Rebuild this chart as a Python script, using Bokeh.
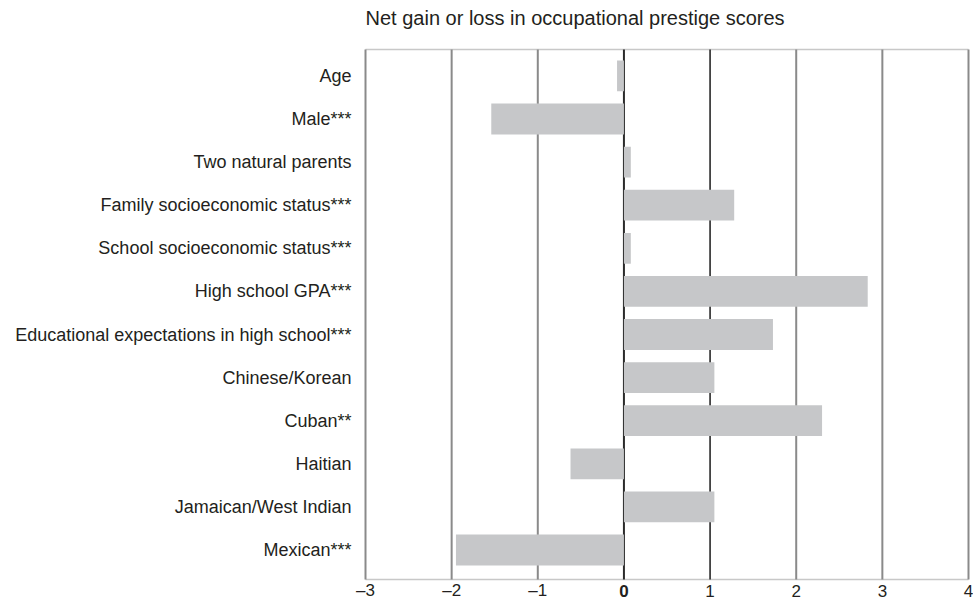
from bokeh.plotting import figure
from bokeh.models import Range1d, FixedTicker, ColumnDataSource
from bokeh.core.properties import value
from bokeh.embed import file_html
from bokeh.resources import INLINE

categories = [
    "Age",
    "Male***",
    "Two natural parents",
    "Family socioeconomic status***",
    "School socioeconomic status***",
    "High school GPA***",
    "Educational expectations in high school***",
    "Chinese/Korean",
    "Cuban**",
    "Haitian",
    "Jamaican/West Indian",
    "Mexican***",
]
values = [-0.08, -1.54, 0.08, 1.28, 0.08, 2.83, 1.73, 1.05, 2.30, -0.62, 1.05, -1.95]
x_ticks = [-3, -2, -1, 0, 1, 2, 3, 4]
x_tick_labels = ["\u20133", "\u20132", "\u20131", "0", "1", "2", "3", "4"]
x_tick_styles = ["normal", "normal", "normal", "bold", "normal", "normal", "normal", "normal"]
title_text = "Net gain or loss in occupational prestige scores"

FONT = "Liberation Sans"
TXT = "#231f20"

# layout (pixels -> data); first category centre sits at 75.4 px
PX_X = 86.1            # px per x unit
PX_Y = 43.1            # px per category
X0, X1 = x_ticks[0], x_ticks[-1]
FRAME_L = 352
Y_CANVAS_TOP = -75.4 / PX_Y
Y_TOP = (49 - 75.4) / PX_Y         # plot area top edge
Y_AX = (579 - 75.4) / PX_Y         # plot area bottom edge
Y_LAB = (590 - 75.4) / PX_Y        # tick label row
Y_TITLE = (17 - 75.4) / PX_Y       # title row
Y_END = (610 - 75.4) / PX_Y        # bottom of canvas

pos = list(range(len(categories)))
src = ColumnDataSource(dict(y=pos, right=values, left=[0] * len(values)))

p = figure(
    width=973, height=610,
    x_range=Range1d(X0 - (365 - FRAME_L) / PX_X, X1 + 5 / PX_X),
    y_range=Range1d(Y_END, Y_CANVAS_TOP),
    output_backend="svg", toolbar_location=None,
    x_axis_location=None,
    min_border_left=FRAME_L, min_border_right=0,
    min_border_top=0, min_border_bottom=0,
)

p.background_fill_color = "white"
p.border_fill_color = "white"
p.outline_line_color = None
p.grid.grid_line_color = None

# title
p.text(x=[X0], y=[Y_TITLE], text=[title_text], text_font=value(FONT),
       text_font_size=value("20px"), text_color=TXT,
       text_align="left", text_baseline="middle")

# plot area top / bottom lines
p.segment(x0=[X0, X0], x1=[X1, X1], y0=[Y_TOP, Y_AX], y1=[Y_TOP, Y_AX],
          line_color="#c8c8c8", line_width=1.5)

# vertical grid lines
grid_x = [t for t in x_ticks if t not in (0, 1)]
p.segment(x0=grid_x, x1=grid_x, y0=[Y_TOP] * len(grid_x), y1=[Y_AX] * len(grid_x),
          line_color="#8a8a8a", line_width=2)
p.segment(x0=[0, 1], x1=[0, 1], y0=[Y_TOP, Y_TOP], y1=[Y_AX, Y_AX],
          line_color=["#2b2b2b", "#1a1a1a"], line_width=[2, 1.5])

p.hbar(y="y", left="left", right="right", height=0.715, source=src,
       fill_color="#c6c7c9", line_color=None)

# x tick labels (zero in bold)
tsrc = ColumnDataSource(dict(x=x_ticks, y=[Y_LAB] * len(x_ticks),
                             text=x_tick_labels, style=x_tick_styles))
p.text(x="x", y="y", text="text", source=tsrc, text_font_style="style",
       text_font=value(FONT), text_font_size=value("17px"), text_color=TXT,
       text_align="center", text_baseline="middle")

# category labels
p.yaxis.ticker = FixedTicker(ticks=pos)
p.yaxis.major_label_overrides = {i: c for i, c in zip(pos, categories)}
p.yaxis.axis_line_color = None
p.yaxis.major_tick_line_color = None
p.yaxis.minor_tick_line_color = None
p.yaxis.major_tick_out = 0
p.yaxis.major_tick_in = 0
p.yaxis.major_label_standoff = 1
p.yaxis.major_label_text_font = FONT
p.yaxis.major_label_text_font_size = "18px"
p.yaxis.major_label_text_color = TXT

open("out.html", "w").write(file_html(p, INLINE))
